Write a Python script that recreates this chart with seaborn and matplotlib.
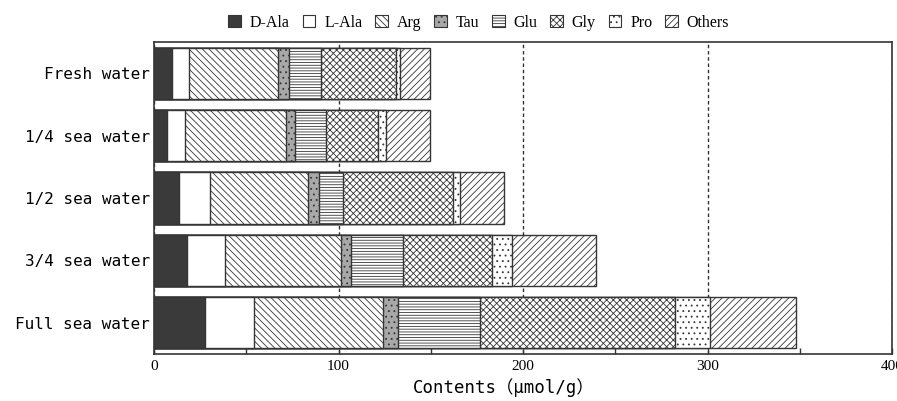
import matplotlib
matplotlib.use("Agg")
import matplotlib.pyplot as plt
from matplotlib.patches import Patch
import numpy as np
import pandas as pd
import seaborn as sns

# ---- data (µmol/g) ----
conditions = ["Fresh water", "1/4 sea water", "1/2 sea water", "3/4 sea water", "Full sea water"]
components = ["D-Ala", "L-Ala", "Arg", "Tau", "Glu", "Gly", "Pro", "Others"]
d_ala = [9.6, 7.0, 13.5, 17.7, 27.6]
l_ala = [9.5, 9.9, 16.9, 21.0, 26.6]
arg = [48.3, 54.5, 53.2, 62.7, 69.8]
tau = [5.8, 4.8, 5.8, 5.6, 8.1]
glu = [17.1, 16.8, 13.1, 28.0, 44.7]
gly = [41.1, 28.4, 59.8, 48.1, 105.7]
pro = [2.1, 4.4, 3.6, 10.8, 19.1]
others = [15.9, 23.6, 24.0, 45.4, 46.3]
x_ticks = [0, 100, 200, 300, 400]
x_minor = [50, 150, 250, 350]

EDGE = "#353535"
faces = ["#3a3a3a", "white", "white", "#a8a8a8", "white", "white", "white", "white"]
hatches = ["", "", "\\\\\\\\\\", "...", "------", "xxxxx", "...", "/////"]

plt.rcParams["hatch.linewidth"] = 0.6

fig = plt.figure(figsize=(8.97, 4.01), dpi=100)
ax = fig.add_axes([154 / 897, 1 - 354 / 401, (892 - 154) / 897, (354 - 42) / 401])

df = pd.DataFrame(dict(zip(components, [d_ala, l_ala, arg, tau, glu, gly, pro, others])),
                  index=conditions)
cum = df.cumsum(axis=1)

for comp, face, hatch in reversed(list(zip(components, faces, hatches))):
    d = pd.DataFrame({"condition": conditions, "value": cum[comp].values})
    sns.barplot(data=d, x="value", y="condition", order=conditions, orient="h",
                color=face, saturation=1, width=0.82, edgecolor=EDGE, linewidth=1.0,
                hatch=hatch, errorbar=None, ax=ax, zorder=2)

ax.set_xlim(0, 400)
ax.set_xticks(x_ticks)
ax.set_xticks(x_minor, minor=True)
ax.set_xticklabels([str(t) for t in x_ticks], fontfamily="Liberation Serif", fontsize=11)
ax.tick_params(axis="x", which="both", direction="in", length=4, width=1, color=EDGE,
               top=False, pad=4)
ax.tick_params(axis="y", length=0, pad=3)
for lab in ax.get_yticklabels():
    lab.set_fontfamily("DejaVu Sans Mono")
    lab.set_fontsize(11.5)
ax.set_axisbelow(True)
ax.grid(axis="x", which="major", linestyle=(0, (2.5, 2)), color="#333333", linewidth=1)
ax.set_ylabel("")
ax.set_xlabel("Contents（μmol/g）", fontfamily=["DejaVu Sans Mono", "Noto Sans CJK JP"],
              fontsize=12.5, labelpad=4)
ax.xaxis.label.set_x(0.474)
for s in ax.spines.values():
    s.set_visible(True)
    s.set_linewidth(1.2)
    s.set_color(EDGE)

handles = [Patch(facecolor=f, edgecolor=EDGE, hatch=h, linewidth=0.8)
           for f, h in zip(faces, hatches)]
ax.legend(handles, components, loc="lower center", bbox_to_anchor=(0.44, 1.015), ncol=8,
          frameon=False, prop={"family": "Liberation Serif", "size": 11.5},
          handlelength=0.8, handleheight=0.8, handletextpad=0.55, columnspacing=0.8,
          borderaxespad=0)

fig.savefig("out.png", dpi=100)
